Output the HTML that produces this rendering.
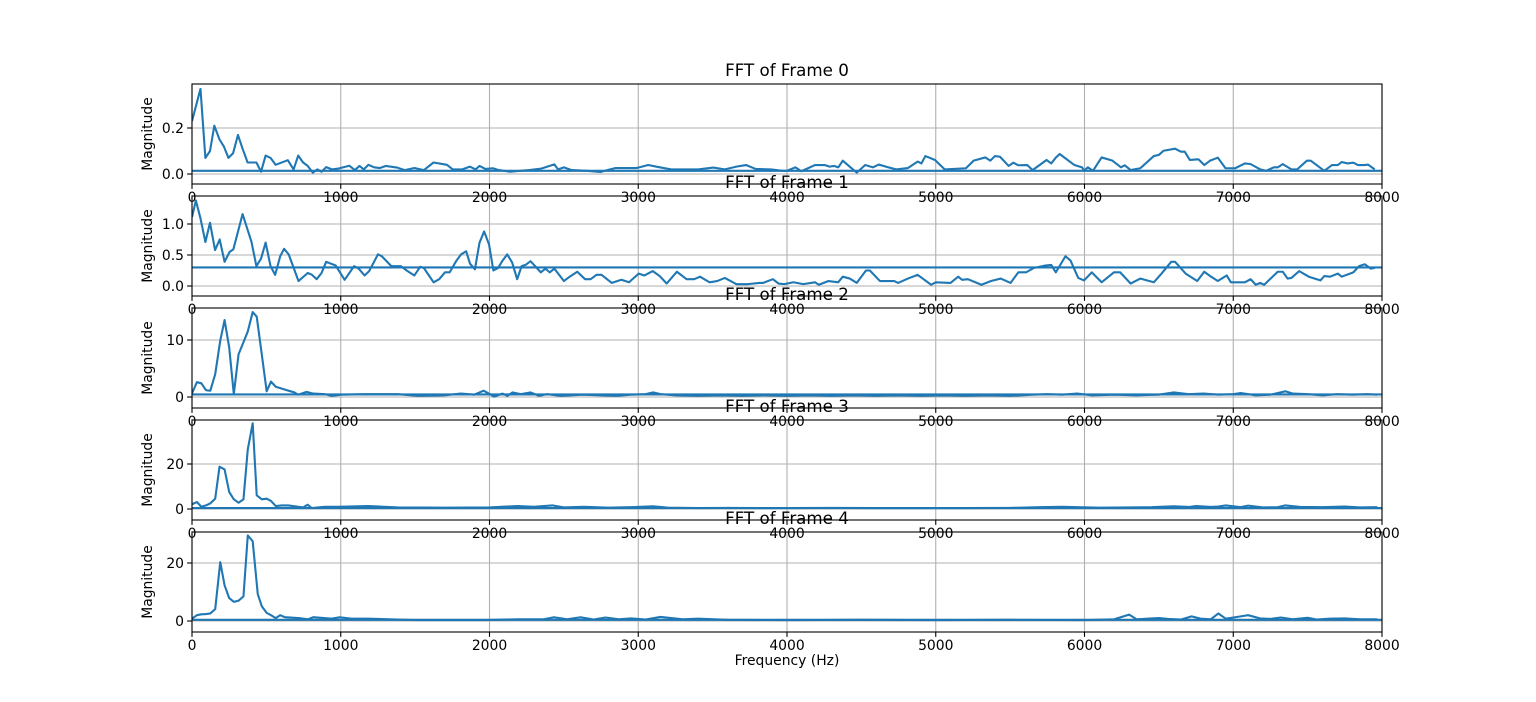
<!DOCTYPE html>
<html><head><meta charset="utf-8"><style>
html,body{margin:0;padding:0;background:#fff;}
svg{display:block;font-family:"DejaVu Sans","Liberation Sans",sans-serif;}
</style></head><body>
<svg id="fig" width="1536" height="702" viewBox="0 0 1536 702" xmlns="http://www.w3.org/2000/svg"></svg>
<script>
const xTicks=[0,1000,2000,3000,4000,5000,6000,7000,8000];
const titles=["FFT of Frame 0","FFT of Frame 1","FFT of Frame 2","FFT of Frame 3","FFT of Frame 4"];
const yTicks0=[0,0.2], yTickLabels0=["0.0","0.2"];
const yTicks1=[0,0.5,1.0], yTickLabels1=["0.0","0.5","1.0"];
const yTicks2=[0,10], yTickLabels2=["0","10"];
const yTicks3=[0,20], yTickLabels3=["0","20"];
const yTicks4=[0,20], yTickLabels4=["0","20"];
const baseline=[0.014,0.30,0.45,0.4,0.4];

const freq0=[0,57,90,121,150,185,214,245,276,309,340,374,407,433,464,495,528,562,644,683,714,747,778,812,843,871,902,941,979,1057,1095,1126,1155,1186,1224,1263,1302,1379,1430,1495,1559,1624,1714,1753,1817,1869,1907,1933,1972,2023,2062,2139,2268,2345,2436,2461,2500,2552,2655,2745,2848,2990,3067,3144,3222,3402,3505,3582,3660,3724,3789,3892,3969,4000,4057,4096,4188,4253,4286,4318,4345,4375,4422,4469,4526,4578,4617,4682,4734,4813,4878,4904,4930,4995,5060,5203,5255,5333,5367,5398,5432,5490,5521,5555,5615,5651,5745,5776,5807,5833,5932,5984,5997,6023,6057,6115,6188,6245,6271,6310,6375,6466,6500,6531,6609,6648,6674,6708,6766,6805,6844,6896,6948,7013,7078,7117,7182,7221,7273,7299,7333,7391,7430,7495,7521,7612,7664,7703,7729,7768,7807,7839,7885,7906,7951];
const mag0=[0.23,0.37,0.07,0.10,0.21,0.15,0.12,0.07,0.09,0.17,0.11,0.05,0.05,0.05,0.01,0.08,0.07,0.04,0.06,0.02,0.08,0.05,0.035,0.006,0.02,0.01,0.03,0.02,0.023,0.036,0.017,0.035,0.02,0.04,0.029,0.026,0.035,0.028,0.017,0.026,0.017,0.05,0.04,0.02,0.02,0.032,0.02,0.035,0.022,0.025,0.017,0.01,0.017,0.023,0.042,0.02,0.029,0.017,0.014,0.009,0.026,0.026,0.039,0.029,0.02,0.02,0.028,0.02,0.032,0.039,0.022,0.02,0.014,0.014,0.029,0.012,0.039,0.039,0.032,0.035,0.029,0.058,0.032,0.006,0.039,0.029,0.041,0.029,0.02,0.026,0.054,0.046,0.078,0.061,0.02,0.025,0.058,0.072,0.058,0.078,0.075,0.035,0.049,0.038,0.039,0.017,0.061,0.046,0.071,0.087,0.039,0.029,0.014,0.029,0.014,0.072,0.058,0.029,0.038,0.017,0.025,0.078,0.083,0.101,0.11,0.097,0.097,0.061,0.064,0.039,0.058,0.071,0.025,0.025,0.046,0.043,0.02,0.014,0.029,0.029,0.043,0.02,0.02,0.058,0.058,0.014,0.039,0.039,0.052,0.046,0.049,0.039,0.039,0.041,0.02];

const freq1=[0,26,57,90,121,155,186,219,253,278,340,400,433,464,495,528,559,593,619,650,716,778,807,838,871,902,966,1026,1090,1121,1160,1191,1250,1276,1340,1405,1443,1495,1534,1559,1624,1662,1701,1732,1778,1809,1843,1869,1902,1933,1964,1997,2026,2057,2088,2119,2152,2186,2216,2242,2276,2307,2345,2376,2405,2436,2500,2539,2590,2642,2680,2719,2753,2822,2887,2938,3003,3041,3098,3144,3191,3260,3325,3376,3415,3479,3531,3582,3660,3737,3814,3840,3905,3943,3982,4044,4109,4188,4214,4279,4344,4375,4422,4469,4531,4557,4625,4721,4747,4813,4878,4969,5000,5099,5151,5177,5216,5307,5372,5437,5503,5555,5607,5659,5737,5776,5807,5872,5906,5958,5997,6049,6115,6198,6240,6310,6375,6466,6518,6583,6609,6680,6758,6805,6839,6896,6956,6984,7078,7117,7151,7182,7208,7299,7333,7365,7391,7443,7508,7586,7612,7651,7703,7729,7807,7846,7885,7924,7951];
const mag1=[1.11,1.38,1.09,0.71,1.02,0.58,0.75,0.39,0.55,0.59,1.16,0.71,0.32,0.44,0.70,0.32,0.18,0.48,0.60,0.51,0.08,0.21,0.18,0.11,0.21,0.39,0.33,0.10,0.32,0.28,0.17,0.24,0.51,0.48,0.32,0.32,0.25,0.17,0.31,0.29,0.06,0.11,0.22,0.22,0.41,0.51,0.56,0.36,0.27,0.70,0.88,0.67,0.25,0.29,0.41,0.51,0.38,0.11,0.32,0.34,0.40,0.32,0.22,0.28,0.22,0.28,0.08,0.15,0.23,0.11,0.11,0.18,0.18,0.05,0.10,0.06,0.20,0.17,0.24,0.16,0.04,0.23,0.11,0.11,0.15,0.06,0.08,0.13,0.03,0.03,0.05,0.05,0.11,0.04,0.03,0.06,0.03,0.06,0.02,0.08,0.06,0.15,0.12,0.05,0.25,0.25,0.08,0.08,0.05,0.12,0.18,0.02,0.06,0.05,0.15,0.10,0.11,0.02,0.08,0.12,0.05,0.22,0.22,0.29,0.33,0.34,0.22,0.48,0.41,0.13,0.09,0.22,0.06,0.22,0.22,0.04,0.12,0.06,0.20,0.39,0.39,0.20,0.08,0.23,0.17,0.08,0.17,0.06,0.06,0.11,0.02,0.05,0.02,0.23,0.23,0.12,0.13,0.24,0.15,0.09,0.16,0.15,0.20,0.15,0.22,0.32,0.35,0.28,0.29];

const freq2=[0,33,63,94,123,156,190,219,250,281,313,346,375,408,435,469,502,531,563,625,688,714,770,815,893,938,1004,1161,1295,1384,1518,1696,1808,1897,1960,2009,2031,2087,2121,2154,2210,2277,2333,2388,2478,2545,2623,2750,2850,2950,3050,3100,3150,3250,3400,3550,3700,3850,4000,4150,4300,4450,4600,4750,4900,5050,5200,5350,5500,5650,5750,5850,5950,6050,6200,6350,6500,6600,6700,6800,6900,7000,7050,7150,7250,7350,7400,7500,7600,7700,7800,7900,7968];
const mag2=[0.64,2.6,2.4,1.2,1.1,4.0,9.9,13.5,8.7,0.5,7.5,9.6,11.5,14.9,14.1,7.5,1.0,2.7,1.8,1.3,0.8,0.4,0.9,0.6,0.5,0.2,0.4,0.5,0.5,0.5,0.2,0.3,0.6,0.4,1.1,0.4,0.06,0.6,0.2,0.8,0.5,0.8,0.2,0.5,0.2,0.3,0.4,0.3,0.2,0.4,0.5,0.8,0.5,0.3,0.2,0.3,0.2,0.3,0.2,0.3,0.2,0.3,0.2,0.3,0.2,0.3,0.2,0.3,0.2,0.4,0.5,0.4,0.6,0.3,0.4,0.3,0.4,0.8,0.5,0.6,0.4,0.5,0.7,0.3,0.4,1.0,0.6,0.5,0.3,0.5,0.4,0.5,0.4];

const freq3=[0,33,63,94,123,156,185,219,250,281,313,346,375,408,435,469,502,531,563,603,647,714,748,777,804,893,982,1183,1384,1700,2000,2188,2299,2422,2500,2634,2800,2950,3100,3200,3400,3600,3800,4000,4300,4600,4900,5200,5500,5700,5850,5950,6100,6300,6450,6600,6700,6750,6850,6900,6950,7050,7100,7200,7300,7350,7450,7600,7750,7850,7968];
const mag3=[2.1,3.1,1.0,1.6,2.5,4.6,18.8,17.6,7.6,4.3,2.8,4.3,26.5,38.1,6.1,4.3,4.6,3.6,1.3,1.6,1.6,1.0,0.7,1.9,0.4,1.0,1.0,1.3,0.7,0.6,0.7,1.3,1.0,1.6,0.7,1.0,0.6,0.8,1.2,0.6,0.4,0.5,0.4,0.4,0.5,0.4,0.4,0.4,0.5,0.8,1.0,0.8,0.6,0.7,0.8,1.2,0.9,1.3,0.9,1.1,1.6,0.8,1.5,0.7,0.8,1.6,0.9,0.8,1.1,0.7,0.8];

const freq4=[0,33,63,94,123,156,190,219,250,281,313,346,375,408,442,469,502,531,563,592,625,714,781,815,938,993,1071,1183,1518,1964,2188,2366,2433,2522,2612,2700,2780,2870,2950,3050,3150,3220,3300,3400,3600,4000,4500,5000,5500,6000,6200,6300,6350,6500,6560,6650,6720,6780,6850,6900,6950,7050,7100,7180,7250,7320,7400,7500,7560,7650,7750,7850,7968];
const mag4=[0.8,2.0,2.3,2.4,2.6,4.1,20.3,12.3,7.9,6.6,7.0,8.5,29.5,27.5,9.3,5.1,2.8,2.0,1.0,2.0,1.3,1.0,0.6,1.3,0.8,1.3,0.8,0.8,0.3,0.3,0.6,0.6,1.3,0.6,1.3,0.5,1.2,0.6,0.9,0.5,1.4,1.0,0.6,0.8,0.4,0.3,0.4,0.3,0.4,0.3,0.6,2.2,0.6,1.0,0.7,0.5,1.6,0.8,0.6,2.6,0.8,1.6,2.0,0.9,0.7,1.2,0.6,1.1,0.5,0.8,0.9,0.6,0.6];

const NS="http://www.w3.org/2000/svg";
const svg=document.getElementById('fig');
const AX_L=192, AX_R=1382, AX_H=100;
const axTops=[84,196,308,420,532];
const zeroY=[174,286,397,509,621];
const scales=[230,62,5.7,2.25,2.9];
const freqs=[freq0,freq1,freq2,freq3,freq4];
const mags=[mag0,mag1,mag2,mag3,mag4];
const yT=[yTicks0,yTicks1,yTicks2,yTicks3,yTicks4];
const yTL=[yTickLabels0,yTickLabels1,yTickLabels2,yTickLabels3,yTickLabels4];
function xS(f){return AX_L+(f/8000)*(AX_R-AX_L);}
function mk(tag,attrs,parent){const e=document.createElementNS(NS,tag);for(const k in attrs)e.setAttribute(k,attrs[k]);(parent||svg).appendChild(e);return e;}
const defs=mk('defs',{});
for(let i=0;i<5;i++){
  const top=axTops[i], bot=top+AX_H;
  const yS=v=>zeroY[i]-v*scales[i];
  const g=mk('g',{});
  
  
  const cp=mk('clipPath',{id:'cp'+i},defs);
  mk('rect',{x:AX_L,y:top,width:AX_R-AX_L,height:AX_H},cp);
  xTicks.forEach(t=>{const l=mk('line',{x1:xS(t),x2:xS(t),y1:top,y2:bot,stroke:'#b0b0b0','stroke-width':1.1},g);
    });
  yT[i].forEach(t=>{const l=mk('line',{x1:AX_L,x2:AX_R,y1:yS(t),y2:yS(t),stroke:'#b0b0b0','stroke-width':1.1},g);
    });
  const f=freqs[i], m=mags[i];
  let d='';
  for(let k=0;k<f.length;k++){d+=(k?'L':'M')+xS(f[k]).toFixed(2)+','+yS(m[k]).toFixed(2);}
  const p=mk('path',{d:d,fill:'none',stroke:'#1f77b4','stroke-width':2.1,'stroke-linejoin':'round','clip-path':'url(#cp'+i+')'},g);
  
  
  const bl=mk('line',{x1:xS(0),x2:xS(8000),y1:yS(baseline[i]),y2:yS(baseline[i]),stroke:'#1f77b4','stroke-width':2.1,'clip-path':'url(#cp'+i+')'},g);
  
  
  const fr=mk('rect',{x:AX_L,y:top,width:AX_R-AX_L,height:AX_H,fill:'none',stroke:'#000','stroke-width':1.1},g);
  
  
  xTicks.forEach(t=>{mk('line',{x1:xS(t),x2:xS(t),y1:bot,y2:bot+4.9,stroke:'#000','stroke-width':1.1},g);
    const tx=mk('text',{x:xS(t),y:bot+18,'text-anchor':'middle','font-size':13.9,fill:'#000'},g);tx.textContent=String(t);
    });
  yT[i].forEach((t,j)=>{mk('line',{x1:AX_L-4.9,x2:AX_L,y1:yS(t),y2:yS(t),stroke:'#000','stroke-width':1.1},g);
    const tx=mk('text',{x:AX_L-8,y:yS(t)+5,'text-anchor':'end','font-size':13.9,fill:'#000'},g);tx.textContent=yTL[i][j];
    });
  const yl=mk('text',{x:0,y:0,'text-anchor':'middle','font-size':13.9,fill:'#000',transform:'translate(152,'+(top+AX_H/2)+') rotate(-90)'},g);
  yl.textContent='Magnitude';
  
  
  const ti=mk('text',{x:(AX_L+AX_R)/2,y:top-8,'text-anchor':'middle','font-size':16.7,fill:'#000'},g);
  ti.textContent=titles[i];
  
  
}
const xl=mk('text',{x:(AX_L+AX_R)/2,y:665,'text-anchor':'middle','font-size':13.9,fill:'#000'});
xl.textContent='Frequency (Hz)';


</script>
</body></html>
